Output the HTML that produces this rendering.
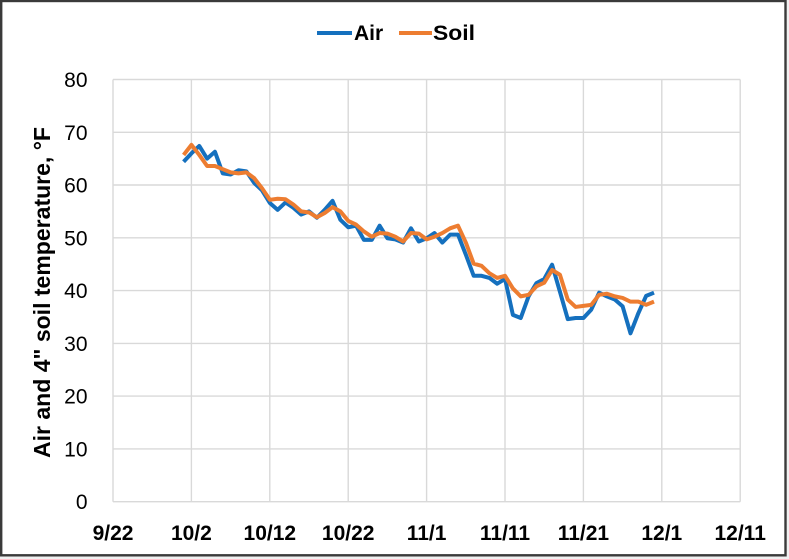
<!DOCTYPE html>
<html><head><meta charset="utf-8"><style>
html,body{margin:0;padding:0;background:#fff;}
svg{display:block;}
text{font-family:"Liberation Sans",Arial,sans-serif;fill:#000;}
</style></head><body>
<svg width="789" height="559" viewBox="0 0 789 559" xmlns="http://www.w3.org/2000/svg">
<rect x="0" y="0" width="789" height="559" fill="#f0f0f0"/>
<rect x="1.2" y="1" width="784.3" height="554.3" fill="#fff" stroke="#3a3a3a" stroke-width="2.4"/>
<g stroke="#d9d9d9" stroke-width="1.4" fill="none">
<line x1="113" y1="448.9" x2="740.2" y2="448.9"/>
<line x1="113" y1="396.1" x2="740.2" y2="396.1"/>
<line x1="113" y1="343.4" x2="740.2" y2="343.4"/>
<line x1="113" y1="290.6" x2="740.2" y2="290.6"/>
<line x1="113" y1="237.8" x2="740.2" y2="237.8"/>
<line x1="113" y1="185.0" x2="740.2" y2="185.0"/>
<line x1="113" y1="132.3" x2="740.2" y2="132.3"/>
<line x1="113" y1="79.5" x2="740.2" y2="79.5"/>
<line x1="113" y1="79.5" x2="113" y2="501.7"/>
<line x1="191.4" y1="79.5" x2="191.4" y2="501.7"/>
<line x1="269.8" y1="79.5" x2="269.8" y2="501.7"/>
<line x1="348.2" y1="79.5" x2="348.2" y2="501.7"/>
<line x1="426.6" y1="79.5" x2="426.6" y2="501.7"/>
<line x1="505" y1="79.5" x2="505" y2="501.7"/>
<line x1="583.4" y1="79.5" x2="583.4" y2="501.7"/>
<line x1="661.8" y1="79.5" x2="661.8" y2="501.7"/>
<line x1="740.2" y1="79.5" x2="740.2" y2="501.7"/>
<line x1="113" y1="501.7" x2="740.2" y2="501.7"/>
</g>
<g font-size="21" text-anchor="end">
<text x="87.5" y="509.2">0</text>
<text x="87.5" y="456.4">10</text>
<text x="87.5" y="403.6">20</text>
<text x="87.5" y="350.9">30</text>
<text x="87.5" y="298.1">40</text>
<text x="87.5" y="245.3">50</text>
<text x="87.5" y="192.5">60</text>
<text x="87.5" y="139.8">70</text>
<text x="87.5" y="87">80</text>
</g>
<g font-size="21" font-weight="bold" text-anchor="middle">
<text x="113" y="540">9/22</text>
<text x="191.4" y="540">10/2</text>
<text x="269.8" y="540">10/12</text>
<text x="348.2" y="540">10/22</text>
<text x="426.6" y="540">11/1</text>
<text x="505" y="540">11/11</text>
<text x="583.4" y="540">11/21</text>
<text x="661.8" y="540">12/1</text>
<text x="740.2" y="540">12/11</text>
</g>
<text transform="translate(50,292.5) rotate(-90)" font-size="23" font-weight="bold" text-anchor="middle" textLength="331" lengthAdjust="spacingAndGlyphs">Air and 4" soil temperature, °F</text>
<g transform="translate(183.6,501.7) scale(7.84,-5.278)" fill="none" stroke-linejoin="round" stroke-linecap="butt">
<polyline vector-effect="non-scaling-stroke" stroke="#1570BE" stroke-width="4" points="0,64.4 1,66 2,67.4 3,65 4,66.3 5,62.2 6,62 7,62.8 8,62.6 9,60.4 10,59 11,56.6 12,55.3 13,56.7 14,55.7 15,54.4 16,55 17,53.8 18,55.3 19,57 20,53.4 21,52 22,52.3 23,49.6 24,49.6 25,52.3 26,49.9 27,49.7 28,49.1 29,51.8 30,49.3 31,49.9 32,50.9 33,49.1 34,50.6 35,50.6 36,46.8 37,42.8 38,42.8 39,42.4 40,41.3 41,42.2 42,35.4 43,34.8 44,38.9 45,41.4 46,42.2 47,44.9 48,39.8 49,34.6 50,34.8 51,34.8 52,36.4 53,39.6 54,38.9 55,38.3 56,37 57,31.9 58,35.7 59,39 60,39.6"/>
<polyline vector-effect="non-scaling-stroke" stroke="#ED7D31" stroke-width="4" points="0,65.7 1,67.6 2,65.7 3,63.6 4,63.6 5,63 6,62.4 7,62.2 8,62.4 9,61.3 10,59.4 11,57.2 12,57.4 13,57.3 14,56.3 15,55 16,54.8 17,53.9 18,54.7 19,55.8 20,55 21,53.2 22,52.5 23,51.2 24,50.2 25,50.9 26,50.8 27,50.2 28,49.3 29,50.9 30,50.8 31,49.7 32,50.2 33,50.9 34,51.8 35,52.3 36,49.1 37,45.1 38,44.7 39,43.3 40,42.4 41,42.8 42,40.4 43,38.9 44,39.2 45,40.8 46,41.5 47,43.9 48,43 49,38.3 50,36.9 51,37.1 52,37.3 53,39.2 54,39.4 55,38.9 56,38.6 57,37.9 58,37.9 59,37.3 60,37.9"/>
</g>
<line x1="317" y1="33" x2="352" y2="33" stroke="#1570BE" stroke-width="4"/>
<text x="354" y="40" font-size="21" font-weight="bold">Air</text>
<line x1="399" y1="33" x2="432" y2="33" stroke="#ED7D31" stroke-width="4"/>
<text x="433" y="40" font-size="21" font-weight="bold" textLength="42" lengthAdjust="spacingAndGlyphs">Soil</text>
</svg>
</body></html>
